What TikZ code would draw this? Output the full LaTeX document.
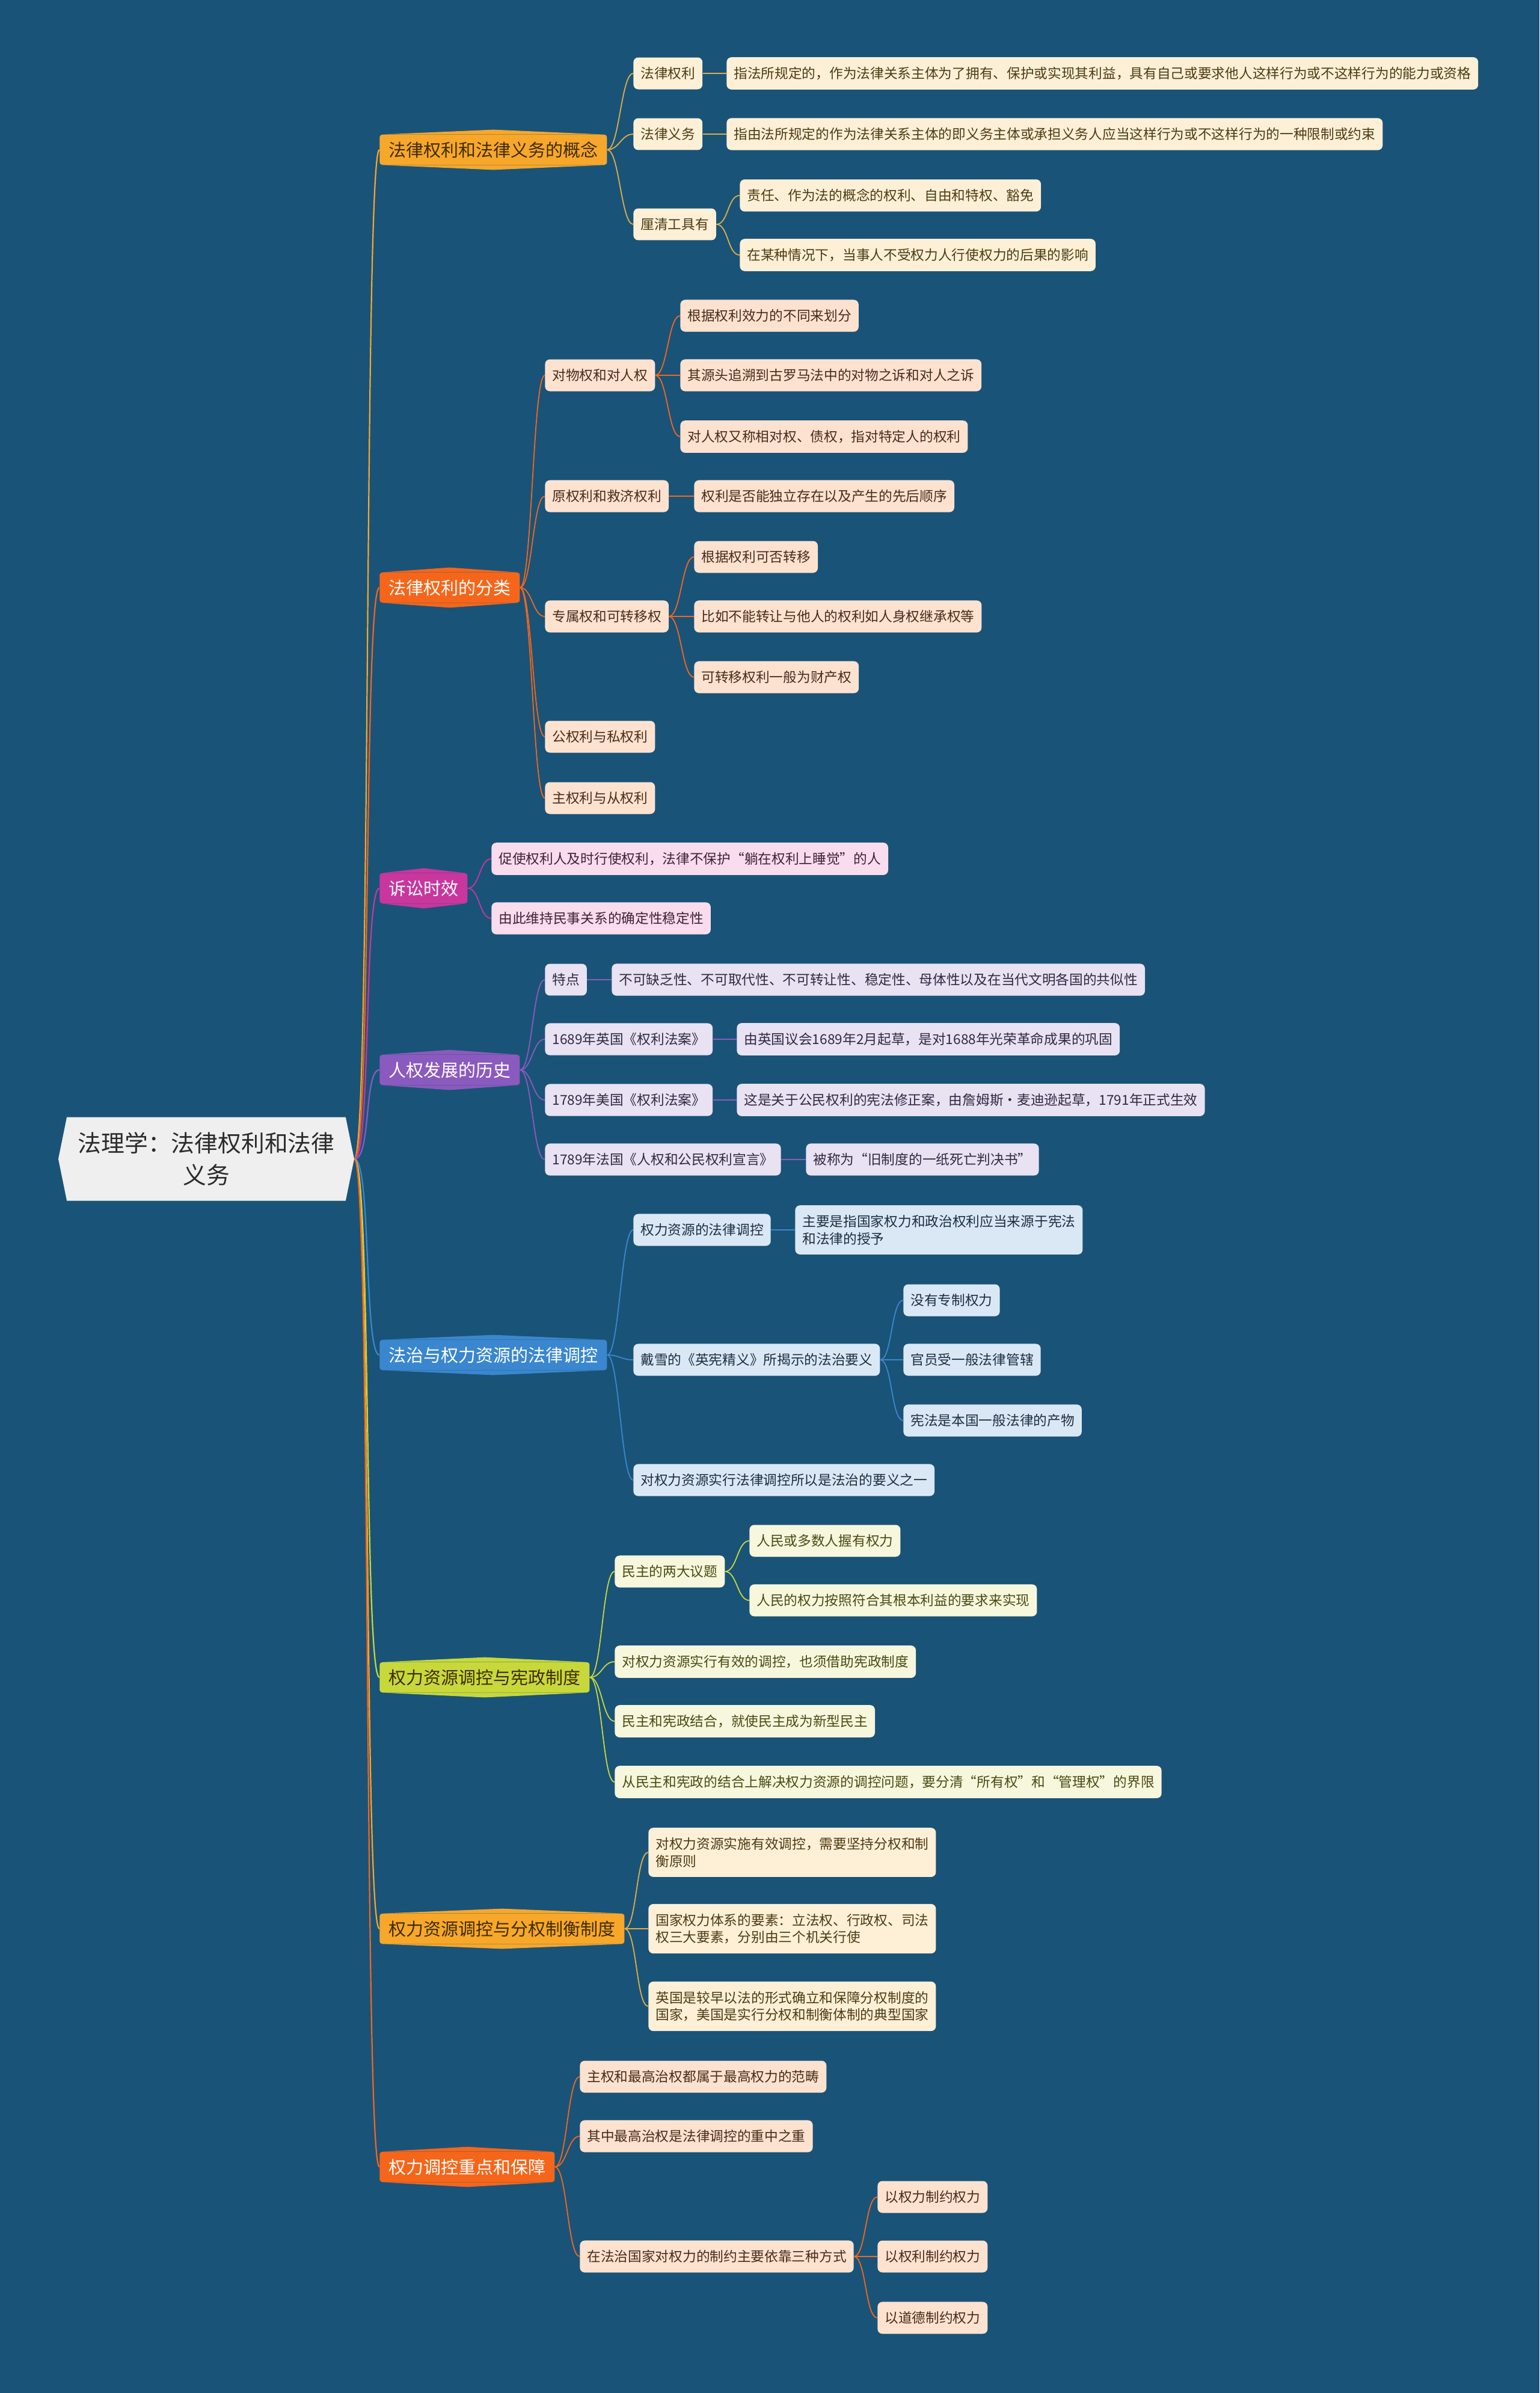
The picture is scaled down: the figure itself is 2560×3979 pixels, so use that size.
\documentclass[tikz,border=0pt]{standalone}
\usepackage{fontspec}
\setmainfont{Noto Sans CJK SC}
\usetikzlibrary{calc,shapes.symbols}
\definecolor{bg}{HTML}{1A5378}
\definecolor{rootfill}{HTML}{EFEFEF}
\definecolor{roottext}{HTML}{2B2B2B}
\definecolor{c1}{HTML}{F7A72A}
\definecolor{c2}{HTML}{F5661A}
\definecolor{c3}{HTML}{C8369E}
\definecolor{c4}{HTML}{8B5ABE}
\definecolor{c5}{HTML}{3A87CF}
\definecolor{c6}{HTML}{C8D83A}
\definecolor{l1}{HTML}{E0AE45}
\definecolor{f1}{HTML}{FDF0D6}
\definecolor{f2}{HTML}{FDE2D0}
\definecolor{f3}{HTML}{F9DDEE}
\definecolor{f4}{HTML}{E8E2F3}
\definecolor{f5}{HTML}{DAE8F5}
\definecolor{f6}{HTML}{F7F7DD}
\definecolor{t1}{HTML}{4D3B14}
\definecolor{t2}{HTML}{4A2A18}
\definecolor{t3}{HTML}{3E2335}
\definecolor{t4}{HTML}{2E2A40}
\definecolor{t5}{HTML}{1C2E40}
\definecolor{t6}{HTML}{4A4A14}
\definecolor{mdark}{HTML}{3D2B00}
\newcommand{\leaffont}{\fontsize{11.35}{14.3}\selectfont}
\newcommand{\brfont}{\fontsize{14.5}{17}\selectfont}
\newcommand{\rootfont}{\fontsize{19.4}{26.5}\selectfont}
\tikzset{
  leaf/.style={rounded corners=4pt, inner xsep=6pt, inner ysep=8pt, minimum height=26pt, anchor=west, font=\leaffont, align=left},
  mainbox/.style={rounded corners=2pt, inner xsep=7.5pt, inner ysep=4pt, minimum height=25pt, anchor=west, font=\brfont},
  rootline/.style={line width=1.1pt},
  subline/.style={line width=0.9pt}
}
\newcommand{\mbranch}[6]{%
  \node[mainbox, fill=#4, text=#5] (#1) at (#2,#3) {#6};
  \fill[#4] ([xshift=2pt]#1.north west) -- ([yshift=4pt]#1.north) -- ([xshift=-2pt]#1.north east) -- cycle;
  \fill[#4] ([xshift=2pt]#1.south west) -- ([yshift=-4pt]#1.south) -- ([xshift=-2pt]#1.south east) -- cycle;
}
\newcommand{\conn}[3]{\draw[subline,#1] (#2.east) .. controls ($(#2.east)+(20,0)$) and ($(#3.west)+(-20,0)$) .. (#3.west);}
\newcommand{\rconn}[2]{\draw[rootline,#1] (root.east) .. controls ($(root.east)+(28,0)$) and ($(#2.west)+(-26,0)$) .. (#2.west);}
\begin{document}
\begin{tikzpicture}[x=0.5pt,y=-0.5pt]
\fill[bg] (0,0) rectangle (2560,3979);
\useasboundingbox (0,0) rectangle (2560,3979);

% root
\node[signal, signal to=east and west, signal pointer angle=157, fill=rootfill, text=roottext,
      minimum width=246pt, minimum height=69.5pt, inner sep=0pt, align=center, font=\rootfont] (root) at (343,1927)
      {法理学：法律权利和法律\\义务};

% branch 1
\mbranch{b1}{631}{249}{c1}{mdark}{法律权利和法律义务的概念}
\node[leaf, fill=f1, text=t1] (b1a) at (1053,122) {法律权利};
\node[leaf, fill=f1, text=t1] (b1a1) at (1208,122) {指法所规定的，作为法律关系主体为了拥有、保护或实现其利益，具有自己或要求他人这样行为或不这样行为的能力或资格};
\node[leaf, fill=f1, text=t1] (b1b) at (1053,223) {法律义务};
\node[leaf, fill=f1, text=t1] (b1b1) at (1208,223) {指由法所规定的作为法律关系主体的即义务主体或承担义务人应当这样行为或不这样行为的一种限制或约束};
\node[leaf, fill=f1, text=t1] (b1c) at (1053,373) {厘清工具有};
\node[leaf, fill=f1, text=t1] (b1c1) at (1230,325) {责任、作为法的概念的权利、自由和特权、豁免};
\node[leaf, fill=f1, text=t1] (b1c2) at (1230,424) {在某种情况下，当事人不受权力人行使权力的后果的影响};
\conn{l1}{b1}{b1a} \conn{l1}{b1}{b1b} \conn{l1}{b1}{b1c}
\conn{l1}{b1a}{b1a1} \conn{l1}{b1b}{b1b1} \conn{l1}{b1c}{b1c1} \conn{l1}{b1c}{b1c2}

% branch 2
\mbranch{b2}{631}{977}{c2}{white}{法律权利的分类}
\node[leaf, fill=f2, text=t2] (b2a) at (906,624) {对物权和对人权};
\node[leaf, fill=f2, text=t2] (b2a1) at (1131,525) {根据权利效力的不同来划分};
\node[leaf, fill=f2, text=t2] (b2a2) at (1131,624) {其源头追溯到古罗马法中的对物之诉和对人之诉};
\node[leaf, fill=f2, text=t2] (b2a3) at (1131,726) {对人权又称相对权、债权，指对特定人的权利};
\node[leaf, fill=f2, text=t2] (b2b) at (906,825) {原权利和救济权利};
\node[leaf, fill=f2, text=t2] (b2b1) at (1154,825) {权利是否能独立存在以及产生的先后顺序};
\node[leaf, fill=f2, text=t2] (b2c) at (906,1025) {专属权和可转移权};
\node[leaf, fill=f2, text=t2] (b2c1) at (1154,926) {根据权利可否转移};
\node[leaf, fill=f2, text=t2] (b2c2) at (1154,1025) {比如不能转让与他人的权利如人身权继承权等};
\node[leaf, fill=f2, text=t2] (b2c3) at (1154,1126) {可转移权利一般为财产权};
\node[leaf, fill=f2, text=t2] (b2d) at (906,1225) {公权利与私权利};
\node[leaf, fill=f2, text=t2] (b2e) at (906,1327) {主权利与从权利};
\conn{c2}{b2}{b2a} \conn{c2}{b2}{b2b} \conn{c2}{b2}{b2c} \conn{c2}{b2}{b2d} \conn{c2}{b2}{b2e}
\conn{c2}{b2a}{b2a1} \conn{c2}{b2a}{b2a2} \conn{c2}{b2a}{b2a3}
\conn{c2}{b2b}{b2b1}
\conn{c2}{b2c}{b2c1} \conn{c2}{b2c}{b2c2} \conn{c2}{b2c}{b2c3}

% branch 3
\mbranch{b3}{631}{1477}{c3}{white}{诉讼时效}
\node[leaf, fill=f3, text=t3] (b3a) at (817,1428) {促使权利人及时行使权利，法律不保护“躺在权利上睡觉”的人};
\node[leaf, fill=f3, text=t3] (b3b) at (817,1527) {由此维持民事关系的确定性稳定性};
\conn{c3}{b3}{b3a} \conn{c3}{b3}{b3b}

% branch 4
\mbranch{b4}{631}{1779}{c4}{white}{人权发展的历史}
\node[leaf, fill=f4, text=t4] (b4a) at (906,1629) {特点};
\node[leaf, fill=f4, text=t4] (b4a1) at (1017,1629) {不可缺乏性、不可取代性、不可转让性、稳定性、母体性以及在当代文明各国的共似性};
\node[leaf, fill=f4, text=t4] (b4b) at (906,1728) {1689年英国《权利法案》};
\node[leaf, fill=f4, text=t4] (b4b1) at (1225,1728) {由英国议会1689年2月起草，是对1688年光荣革命成果的巩固};
\node[leaf, fill=f4, text=t4] (b4c) at (906,1829) {1789年美国《权利法案》};
\node[leaf, fill=f4, text=t4] (b4c1) at (1225,1829) {这是关于公民权利的宪法修正案，由詹姆斯•麦迪逊起草，1791年正式生效};
\node[leaf, fill=f4, text=t4] (b4d) at (906,1928) {1789年法国《人权和公民权利宣言》};
\node[leaf, fill=f4, text=t4] (b4d1) at (1340,1928) {被称为“旧制度的一纸死亡判决书”};
\conn{c4}{b4}{b4a} \conn{c4}{b4}{b4b} \conn{c4}{b4}{b4c} \conn{c4}{b4}{b4d}
\conn{c4}{b4a}{b4a1} \conn{c4}{b4b}{b4b1} \conn{c4}{b4c}{b4c1} \conn{c4}{b4d}{b4d1}

% branch 5
\mbranch{b5}{631}{2253}{c5}{white}{法治与权力资源的法律调控}
\node[leaf, fill=f5, text=t5] (b5a) at (1053,2045) {权力资源的法律调控};
\node[leaf, fill=f5, text=t5] (b5a1) at (1322,2045) {主要是指国家权力和政治权利应当来源于宪法\\和法律的授予};
\node[leaf, fill=f5, text=t5] (b5b) at (1053,2261) {戴雪的《英宪精义》所揭示的法治要义};
\node[leaf, fill=f5, text=t5] (b5b1) at (1502,2162) {没有专制权力};
\node[leaf, fill=f5, text=t5] (b5b2) at (1502,2261) {官员受一般法律管辖};
\node[leaf, fill=f5, text=t5] (b5b3) at (1502,2362) {宪法是本国一般法律的产物};
\node[leaf, fill=f5, text=t5] (b5c) at (1053,2461) {对权力资源实行法律调控所以是法治的要义之一};
\conn{c5}{b5}{b5a} \conn{c5}{b5}{b5b} \conn{c5}{b5}{b5c}
\conn{c5}{b5a}{b5a1}
\conn{c5}{b5b}{b5b1} \conn{c5}{b5b}{b5b2} \conn{c5}{b5b}{b5b3}

% branch 6
\mbranch{b6}{631}{2789}{c6}{mdark}{权力资源调控与宪政制度}
\node[leaf, fill=f6, text=t6] (b6a) at (1022,2613) {民主的两大议题};
\node[leaf, fill=f6, text=t6] (b6a1) at (1246,2562) {人民或多数人握有权力};
\node[leaf, fill=f6, text=t6] (b6a2) at (1246,2661) {人民的权力按照符合其根本利益的要求来实现};
\node[leaf, fill=f6, text=t6] (b6b) at (1022,2763) {对权力资源实行有效的调控，也须借助宪政制度};
\node[leaf, fill=f6, text=t6] (b6c) at (1022,2862) {民主和宪政结合，就使民主成为新型民主};
\node[leaf, fill=f6, text=t6] (b6d) at (1022,2963) {从民主和宪政的结合上解决权力资源的调控问题，要分清“所有权”和“管理权”的界限};
\conn{c6}{b6}{b6a} \conn{c6}{b6}{b6b} \conn{c6}{b6}{b6c} \conn{c6}{b6}{b6d}
\conn{c6}{b6a}{b6a1} \conn{c6}{b6a}{b6a2}

% branch 7
\mbranch{b7}{631}{3207}{c1}{mdark}{权力资源调控与分权制衡制度}
\node[leaf, fill=f1, text=t1] (b7a) at (1078,3080) {对权力资源实施有效调控，需要坚持分权和制\\衡原则};
\node[leaf, fill=f1, text=t1] (b7b) at (1078,3207) {国家权力体系的要素：立法权、行政权、司法\\权三大要素，分别由三个机关行使};
\node[leaf, fill=f1, text=t1] (b7c) at (1078,3336) {英国是较早以法的形式确立和保障分权制度的\\国家，美国是实行分权和制衡体制的典型国家};
\conn{l1}{b7}{b7a} \conn{l1}{b7}{b7b} \conn{l1}{b7}{b7c}

% branch 8
\mbranch{b8}{631}{3603}{c2}{white}{权力调控重点和保障}
\node[leaf, fill=f2, text=t2] (b8a) at (964,3453) {主权和最高治权都属于最高权力的范畴};
\node[leaf, fill=f2, text=t2] (b8b) at (964,3552) {其中最高治权是法律调控的重中之重};
\node[leaf, fill=f2, text=t2] (b8c) at (964,3752) {在法治国家对权力的制约主要依靠三种方式};
\node[leaf, fill=f2, text=t2] (b8c1) at (1459,3653) {以权力制约权力};
\node[leaf, fill=f2, text=t2] (b8c2) at (1459,3752) {以权利制约权力};
\node[leaf, fill=f2, text=t2] (b8c3) at (1459,3854) {以道德制约权力};
\conn{c2}{b8}{b8a} \conn{c2}{b8}{b8b} \conn{c2}{b8}{b8c}
\conn{c2}{b8c}{b8c1} \conn{c2}{b8c}{b8c2} \conn{c2}{b8c}{b8c3}

% root connectors
\rconn{c1}{b1} \rconn{c2}{b2} \rconn{c3}{b3} \rconn{c4}{b4}
\rconn{c5}{b5} \rconn{c6}{b6} \rconn{c1}{b7} \rconn{c2}{b8}
\end{tikzpicture}
\end{document}
